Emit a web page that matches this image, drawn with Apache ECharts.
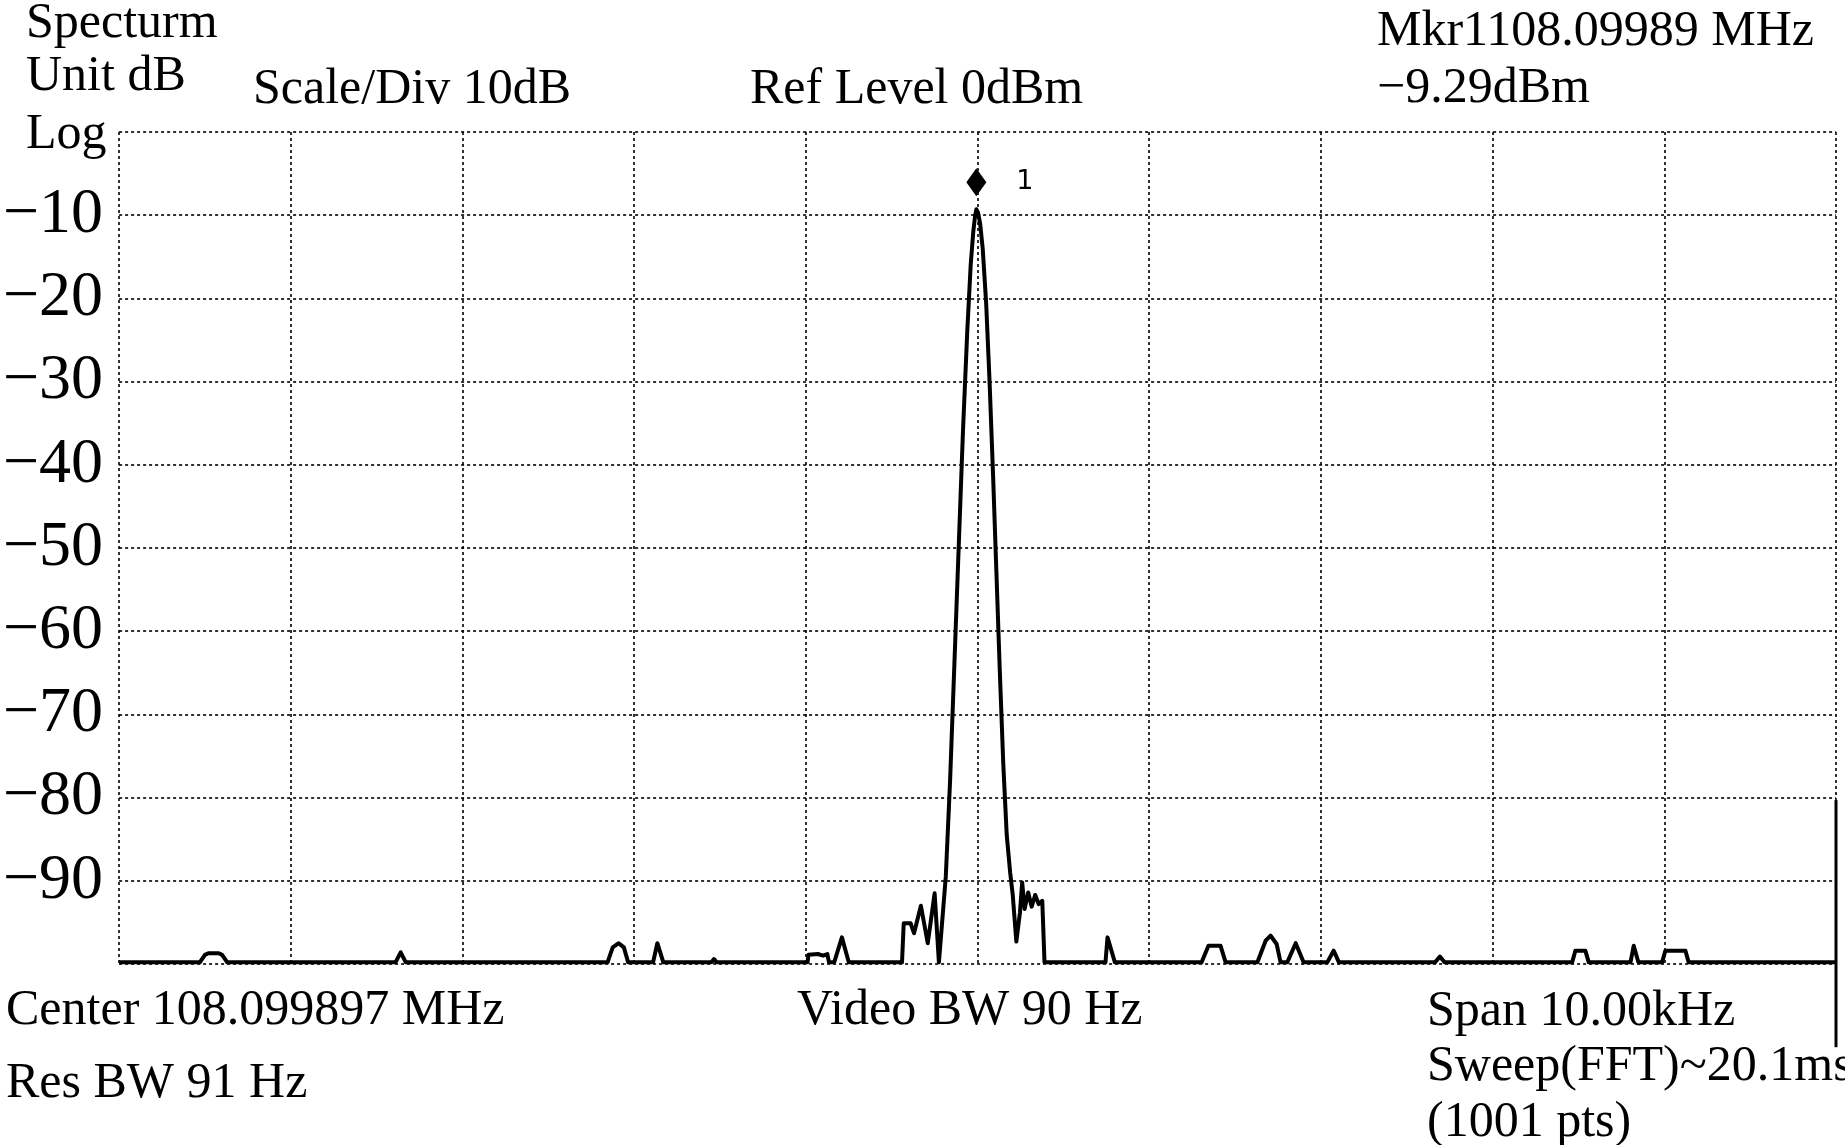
<!DOCTYPE html>
<html>
<head>
<meta charset="utf-8">
<script src="https://cdn.jsdelivr.net/npm/echarts@6/dist/echarts.min.js"></script>
<style>
html,body{margin:0;padding:0;background:#fff;}
#chart{width:1845px;height:1145px;}
</style>
</head>
<body>
<div id="chart"></div>
<script>
// Frequency offset from center (kHz) and measured level (dBm)
const freqKHz = [
  -5.0, -4.53, -4.50, -4.48, -4.42, -4.40, -4.37,
  -3.39, -3.36, -3.33,
  -2.155, -2.125, -2.09, -2.06, -2.035,
  -1.89, -1.865, -1.83,
  -1.55, -1.535, -1.52,
  -0.99, -0.985, -0.93, -0.90, -0.875, -0.865,
  -0.835, -0.79, -0.75,
  -0.44, -0.43, -0.39, -0.37, -0.33, -0.29, -0.25, -0.225,
  -0.185, -0.160, -0.135, -0.110, -0.085, -0.060, -0.040, -0.025, -0.015, -0.007,
  0.003, 0.015, 0.030, 0.050, 0.070, 0.090, 0.110, 0.130, 0.150, 0.170, 0.190,
  0.205, 0.226, 0.247, 0.260, 0.274, 0.295, 0.315, 0.336, 0.356, 0.377, 0.390,
  0.745, 0.757, 0.768, 0.800,
  1.305, 1.345, 1.415, 1.445,
  1.630, 1.678, 1.707, 1.742, 1.765,
  1.804, 1.853, 1.899,
  2.037, 2.074, 2.105,
  2.665, 2.693, 2.720,
  3.463, 3.482, 3.540, 3.560,
  3.803, 3.822, 3.849,
  3.987, 4.006, 4.123, 4.142,
  5.0
];
const levelDbm = [
  -99.8, -99.8, -98.9, -98.7, -98.7, -98.9, -99.8,
  -99.8, -98.6, -99.8,
  -99.8, -98.0, -97.5, -98.0, -99.8,
  -99.8, -97.5, -99.8,
  -99.8, -99.4, -99.8,
  -99.8, -98.9, -98.8, -99.0, -98.8, -99.8,
  -99.8, -96.8, -99.8,
  -99.8, -95.1, -95.1, -96.3, -93.0, -97.5, -91.5, -99.8,
  -89.5, -78.0, -64.0, -50.0, -36.0, -24.0, -16.0, -12.0, -10.2, -9.29,
  -9.7, -11.0, -14.0, -20.5, -30.0, -41.0, -53.0, -65.0, -76.0, -84.5, -89.0,
  -91.7, -97.3, -93.8, -90.2, -93.4, -91.4, -93.1, -91.7, -92.8, -92.4, -99.8,
  -99.8, -96.8, -96.8, -99.8,
  -99.8, -97.8, -97.8, -99.8,
  -99.8, -97.2, -96.6, -97.6, -99.8,
  -99.8, -97.5, -99.8,
  -99.8, -98.4, -99.8,
  -99.8, -99.1, -99.8,
  -99.8, -98.4, -98.4, -99.8,
  -99.8, -97.8, -99.8,
  -99.8, -98.4, -98.4, -99.8,
  -99.8
];
const centerMHz = 108.099897;
const markerMHz = 108.09989;
const markerDbm = -9.29;
const yTicks = [-10, -20, -30, -40, -50, -60, -70, -80, -90];
const edgeLineKHz = [5, 5];
const edgeLineDbm = [-80.3, -110];

const annotations = [
  {text: 'Specturm', x: 26, y: 24},
  {text: 'Unit dB', x: 26, y: 77},
  {text: 'Log', x: 26, y: 135},
  {text: 'Scale/Div 10dB', x: 253, y: 90},
  {text: 'Ref Level 0dBm', x: 750, y: 90},
  {text: 'Mkr1108.09989 MHz', x: 1377, y: 32},
  {text: '\u22129.29dBm', x: 1377, y: 89},
  {text: 'Center 108.099897 MHz', x: 6, y: 1011},
  {text: 'Res BW 91 Hz', x: 6, y: 1084},
  {text: 'Video BW 90 Hz', x: 797, y: 1011},
  {text: 'Span 10.00kHz', x: 1427, y: 1012},
  {text: 'Sweep(FFT)~20.1ms', x: 1427, y: 1067},
  {text: '(1001 pts)', x: 1427, y: 1123}
];

const FONT = '"Liberation Serif", "Times New Roman", serif';
const trace = freqKHz.map((f, i) => [f, levelDbm[i]]);
const edgeLine = edgeLineKHz.map((f, i) => [f, edgeLineDbm[i]]);
const markerKHz = (markerMHz - centerMHz) * 1000;

const chart = echarts.init(document.getElementById('chart'), null, {renderer: 'canvas'});
const gridLine = {show: true, lineStyle: {color: '#000', width: 1.6, type: [3, 3]}};

chart.setOption({
  animation: false,
  backgroundColor: '#ffffff',
  grid: {left: 118, right: 9, top: 132, bottom: 181, containLabel: false},
  xAxis: {
    type: 'value', min: -5, max: 5, interval: 1,
    axisLine: {show: false}, axisTick: {show: false}, axisLabel: {show: false},
    splitLine: gridLine
  },
  yAxis: {
    type: 'value', min: -100, max: 0, interval: 10,
    axisLine: {show: false}, axisTick: {show: false},
    axisLabel: {
      show: true, margin: 16, fontFamily: FONT, fontSize: 64, color: '#000',
      formatter: v => yTicks.indexOf(v) >= 0 ? '\u2212' + Math.abs(v) : ''
    },
    splitLine: gridLine
  },
  series: [
    {
      type: 'line', data: trace, showSymbol: false, symbol: 'none', clip: false,
      lineStyle: {color: '#000', width: 4, join: 'round'},
      z: 3
    },
    {
      type: 'line', data: edgeLine, showSymbol: false, symbol: 'none', clip: false,
      lineStyle: {color: '#000', width: 3}, silent: true, z: 3
    },
    {
      type: 'scatter', data: [[markerKHz, markerDbm]],
      symbol: 'diamond', symbolSize: [20, 28], symbolOffset: [0, -27],
      itemStyle: {color: '#000', opacity: 1},
      label: {
        show: true, formatter: '1', position: 'right', distance: 30,
        fontFamily: '"DejaVu Sans", sans-serif', fontSize: 27, color: '#000'
      },
      z: 4
    }
  ],
  graphic: annotations.map(a => ({
    type: 'text', left: a.x, top: a.y - 25,
    style: {text: a.text, font: '50px ' + FONT, fill: '#000', textVerticalAlign: 'top'}
  }))
});
</script>
</body>
</html>
